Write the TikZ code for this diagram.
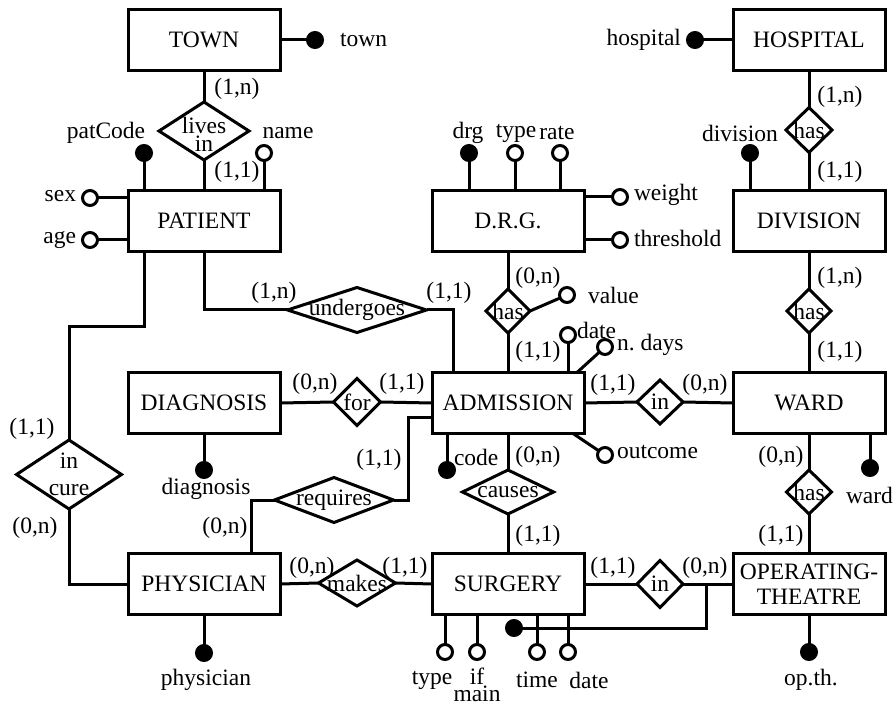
\documentclass[tikz,border=0pt]{standalone}
\usepackage{fontspec}
\setmainfont{Liberation Serif}
\usetikzlibrary{shapes.geometric}
\begin{document}
\frenchspacing
\begin{tikzpicture}[x=0.5pt,y=-0.5pt, line width=1.5pt,
  every node/.style={font=\fontsize{11.75}{12.5}\selectfont, inner sep=0pt, outer sep=0pt},
  entity/.style={draw, minimum width=76pt, minimum height=30.5pt, align=center},
  rel/.style 2 args={draw, shape=diamond, minimum width=#1*0.5pt, minimum height=#2*0.5pt},
  keyattr/.style={circle, draw, fill=black, minimum size=7.5pt},
  attr/.style={circle, draw, fill=white, minimum size=7.5pt}]
\useasboundingbox (0,0) rectangle (894,705);

% entities
\node[entity] (town) at (204,40) {TOWN};
\node[entity] (hospital) at (809,40) {HOSPITAL};
\node[entity] (patient) at (204,221) {PATIENT};
\node[entity] (drg) at (508,221) {D.R.G.};
\node[entity] (division) at (809,221) {DIVISION};
\node[entity] (diagnosis) at (204,403) {DIAGNOSIS};
\node[entity] (admission) at (508,403) {ADMISSION};
\node[entity] (ward) at (809,403) {WARD};
\node[entity] (physician) at (204,584) {PHYSICIAN};
\node[entity] (surgery) at (508,584) {SURGERY};
\node[entity, font=\fontsize{11.75}{12.5}\selectfont] (ot) at (809,584) {OPERATING-\\THEATRE};

% relationships
\node[rel={90}{58}, label={[yshift=-1.5pt, align=center, font=\fontsize{11.75}{7}\selectfont]center:{lives\\in}}] (livesin) at (204,131) {};
\node[rel={46}{45}, label=center:has] (hoshas) at (809,130) {};
\node[rel={139}{45}, label=center:undergoes] (undergoes) at (357,310) {};
\node[rel={44}{44}, label=center:has] (drghas) at (508,311) {};
\node[rel={44}{44}, label=center:has] (divhas) at (809,311) {};
\node[rel={47}{47}, label=center:for] (for) at (357,402) {};
\node[rel={46}{44}, label=center:in] (admin) at (660,402) {};
\node[rel={105}{69}, label={[align=center, font=\fontsize{11.75}{13.5}\selectfont]center:{in\\cure}}] (incure) at (69,474.5) {};
\node[rel={119}{45}, label=center:requires] (requires) at (334,500) {};
\node[rel={91}{44}, label=center:causes] (causes) at (508,492) {};
\node[rel={45}{44}, label=center:has] (wardhas) at (809,492) {};
\node[rel={77}{46}, label=center:makes] (makes) at (357,583) {};
\node[rel={46}{47}, label=center:in] (surgin) at (660,584) {};

% relationship connectors
\draw (town.south) -- (livesin.north);
\draw (livesin.south) -- (patient.north);
\draw (hospital.south) -- (hoshas.north);
\draw (hoshas.south) -- (division.north);
\draw (patient.south) |- (undergoes.west);
\draw (undergoes.east) -| ([xshift=10.5pt]admission.north west);
\draw (drg.south) -- (drghas.north);
\draw (drghas.south) -- (admission.north);
\draw (division.south) -- (divhas.north);
\draw (divhas.south) -- (ward.north);
\draw (diagnosis.east) -- (for.west);
\draw (for.east) -- (admission.west);
\draw (admission.east) -- (admin.west);
\draw (admin.east) -- (ward.west);
\draw ([xshift=-30pt]patient.south) -- ++(0,75) -| (incure.north);
\draw (incure.south) |- (physician.west);
\draw ([yshift=-7.5pt]admission.west) -| ([xshift=7.5pt]requires.east) -- (requires.east);
\draw (requires.west) -| ([xshift=23.5pt]physician.north);
\draw (admission.south) -- (causes.north);
\draw (causes.south) -- (surgery.north);
\draw (ward.south) -- (wardhas.north);
\draw (wardhas.south) -- (ot.north);
\draw (physician.east) -- (makes.west);
\draw (makes.east) -- (surgery.west);
\draw (surgery.east) -- (surgin.west);
\draw (surgin.east) -- (ot.west);

% attributes
\node[keyattr] (towndot) at (315,40) {};
\draw (town.east) -- (towndot);
\node[keyattr] (hospdot) at (695,40) {};
\draw (hospital.west) -- (hospdot);
\node[keyattr] (patcode) at (144,153) {};
\draw (patcode) -- (patcode |- patient.north);
\node[attr] (name) at (264,153) {};
\draw (name) -- (name |- patient.north);
\node[attr] (sex) at (90,198) {};
\draw (sex) -- (sex -| patient.west);
\node[attr] (age) at (90,240) {};
\draw (age) -- (age -| patient.west);
\node[keyattr] (drgk) at (469,153) {};
\draw (drgk) -- (drgk |- drg.north);
\node[attr] (type) at (515,153) {};
\draw (type) -- (type |- drg.north);
\node[attr] (rate) at (560,153) {};
\draw (rate) -- (rate |- drg.north);
\node[attr] (weight) at (620,197) {};
\draw (weight) -- (weight -| drg.east);
\node[attr] (threshold) at (620,240) {};
\draw (threshold) -- (threshold -| drg.east);
\node[keyattr] (divk) at (750,153) {};
\draw (divk) -- (divk |- division.north);
\node[attr] (value) at (567,295) {};
\draw (drghas.east) -- (value);
\node[attr] (adate) at (568,335) {};
\draw (adate) -- (adate |- admission.north);
\node[attr] (ndays) at (605,347) {};
\draw ([xshift=-3.5pt]admission.north east) -- (ndays);
\node[attr] (outcome) at (605,455) {};
\draw ([xshift=-5.5pt]admission.south east) -- (outcome);
\node[keyattr] (code) at (447,470) {};
\draw (code) -- (code |- admission.south);
\node[keyattr] (diagk) at (204,470) {};
\draw (diagnosis.south) -- (diagk);
\node[keyattr] (physk) at (204,653) {};
\draw (physician.south) -- (physk);
\node[keyattr] (wardk) at (870,468) {};
\draw (wardk) -- (wardk |- ward.south);
\node[keyattr] (otk) at (809,652) {};
\draw (ot.south) -- (otk);
\node[attr] (stype) at (445,652) {};
\draw (stype) -- (stype |- surgery.south);
\node[attr] (ifmain) at (477,652) {};
\draw (ifmain) -- (ifmain |- surgery.south);
\node[attr] (stime) at (537,652) {};
\draw (stime) -- (stime |- surgery.south);
\node[attr] (sdate) at (568,652) {};
\draw (sdate) -- (sdate |- surgery.south);
\node[keyattr] (keydot) at (514,628) {};
\draw ([xshift=11.5pt]surgin.east) |- (keydot);

% attribute labels
\node[anchor=west] (ltown) at (340,40) {town};
\node[anchor=east] (lhosp) at (681,40) {hospital};
\node (lpatcode) at (106,133) {patCode};
\node (lname) at (288,133) {name};
\node[anchor=east] (lsex) at (76,196) {sex};
\node[anchor=east] (lage) at (76,240) {age};
\node (ldrg) at (468,133) {drg};
\node (ltype) at (516,133) {type};
\node (lrate) at (557,133) {rate};
\node[anchor=west] (lweight) at (634,195) {weight};
\node[anchor=west] (lthr) at (634,238) {threshold};
\node (ldiv) at (740,133) {division};
\node[anchor=west] (lvalue) at (588,295) {value};
\node[anchor=west] (ladate) at (577,330) {date};
\node[anchor=west] (lndays) at (617,345) {n.\ days};
\node[anchor=west] (lcode) at (454,457) {code};
\node[anchor=west] (loutcome) at (617,452) {outcome};
\node (ldiag) at (206,489) {diagnosis};
\node (lphys) at (206,680) {physician};
\node[anchor=west] (lward) at (846,495) {ward};
\node (lotk) at (811,680) {op.th.};
\node (lstype) at (432,680) {type};
\node (lif) at (477,676) {if};
\node (lmain) at (477,694) {main};
\node (lstime) at (537,680) {time};
\node (lsdate) at (589,680) {date};

% cardinalities
\node (c1) at (237,89) {(1,n)};
\node (c2) at (237,172) {(1,1)};
\node (c3) at (840,97) {(1,n)};
\node (c4) at (840,172) {(1,1)};
\node (c5) at (274,293) {(1,n)};
\node (c6) at (449,293) {(1,1)};
\node (c7) at (315,384) {(0,n)};
\node (c8) at (402,384) {(1,1)};
\node (c9) at (538,278) {(0,n)};
\node (c10) at (538,352) {(1,1)};
\node (c11) at (613,385) {(1,1)};
\node (c12) at (705,385) {(0,n)};
\node (c13) at (840,278) {(1,n)};
\node (c14) at (840,352) {(1,1)};
\node (c15) at (32,429) {(1,1)};
\node (c16) at (35,528) {(0,n)};
\node (c17) at (379,460) {(1,1)};
\node (c18) at (225,528) {(0,n)};
\node (c19) at (538,457) {(0,n)};
\node (c20) at (538,536) {(1,1)};
\node (c21) at (781,457) {(0,n)};
\node (c22) at (781,536) {(1,1)};
\node (c23) at (312,568) {(0,n)};
\node (c24) at (405,568) {(1,1)};
\node (c25) at (613,568) {(1,1)};
\node (c26) at (705,568) {(0,n)};
\end{tikzpicture}
\end{document}
